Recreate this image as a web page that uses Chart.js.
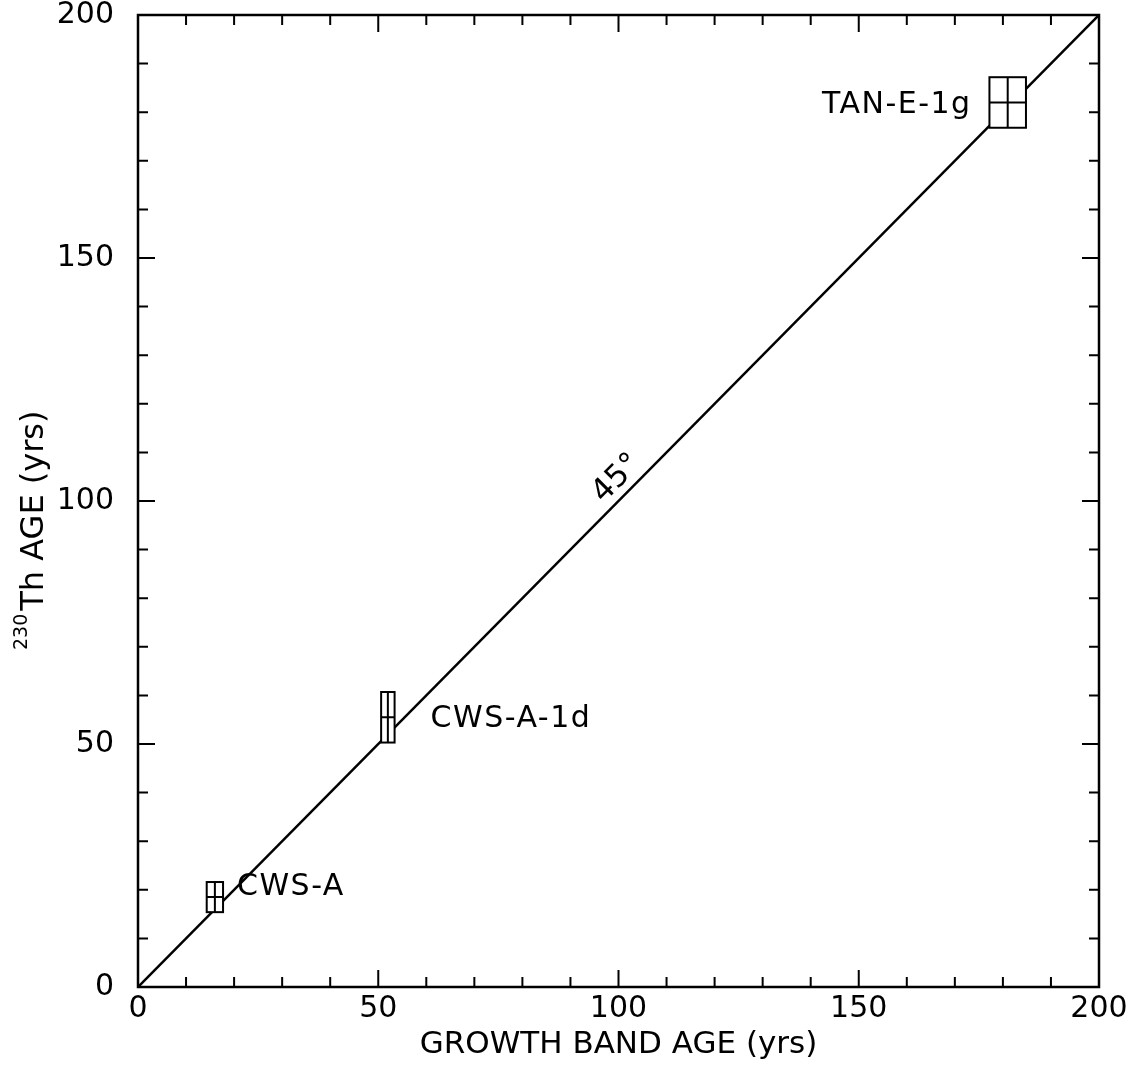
<!DOCTYPE html>
<html>
<head>
<meta charset="utf-8">
<script src="https://cdn.jsdelivr.net/npm/chart.js@4"></script>
<style>
  html, body { margin: 0; padding: 0; background: #fff; }
  #wrap { width: 1134px; height: 1072px; }
</style>
</head>
<body>
<div id="wrap"><canvas id="ageChart"></canvas></div>
<script>
// sample data
const sampleNames = ['CWS-A', 'CWS-A-1d', 'TAN-E-1g'];
const bandAge = [16, 52, 181];
const bandAgeErr = [1.7, 1.4, 3.8];
const thAge = [18.5, 55.5, 182];
const thAgeErr = [3.1, 5.2, 5.2];

// 45 degree reference line
const refLineX = [0, 200];
const refLineY = [0, 200];

// where the sample names sit (data units)
const labelX = [20.6, 60.9, 173.5];
const labelY = [20.5, 55, 181.5];
const labelAlign = ['left', 'left', 'right'];

const xTitle = 'GROWTH BAND AGE (yrs)';
const yTitleSup = '230';
const yTitle = 'Th AGE (yrs)';

const FONT = '"DejaVu Sans", sans-serif';

// frame, inward ticks on all four sides, error boxes and text
const paperPlugin = {
    id: 'paper',
    afterDraw(chart) {
        const ctx = chart.ctx;
        const area = chart.chartArea;
        const xs = chart.scales.x;
        const ys = chart.scales.y;
        ctx.save();
        ctx.strokeStyle = '#000';
        ctx.fillStyle = '#000';

        // ticks
        ctx.lineWidth = 2;
        xs.ticks.forEach(t => {
            const px = xs.getPixelForValue(t.value);
            const len = t.value % 50 === 0 ? 17 : 10;
            ctx.beginPath();
            ctx.moveTo(px, area.bottom); ctx.lineTo(px, area.bottom - len);
            ctx.moveTo(px, area.top); ctx.lineTo(px, area.top + len);
            ctx.stroke();
        });
        ys.ticks.forEach(t => {
            const py = ys.getPixelForValue(t.value);
            const len = t.value % 50 === 0 ? 17 : 10;
            ctx.beginPath();
            ctx.moveTo(area.left, py); ctx.lineTo(area.left + len, py);
            ctx.moveTo(area.right, py); ctx.lineTo(area.right - len, py);
            ctx.stroke();
        });

        // frame
        ctx.lineWidth = 2.5;
        ctx.strokeRect(area.left, area.top, area.right - area.left, area.bottom - area.top);

        // error boxes with cross
        ctx.lineWidth = 2;
        bandAge.forEach((bx, i) => {
            const x0 = xs.getPixelForValue(bx - bandAgeErr[i]);
            const x1 = xs.getPixelForValue(bx + bandAgeErr[i]);
            const y0 = ys.getPixelForValue(thAge[i] + thAgeErr[i]);
            const y1 = ys.getPixelForValue(thAge[i] - thAgeErr[i]);
            const cx = xs.getPixelForValue(bx);
            const cy = ys.getPixelForValue(thAge[i]);
            ctx.fillStyle = '#fff';
            ctx.fillRect(x0, y0, x1 - x0, y1 - y0);
            ctx.strokeRect(x0, y0, x1 - x0, y1 - y0);
            ctx.beginPath();
            ctx.moveTo(cx, y0); ctx.lineTo(cx, y1);
            ctx.moveTo(x0, cy); ctx.lineTo(x1, cy);
            ctx.stroke();
        });

        // sample names
        ctx.fillStyle = '#000';
        ctx.font = '30px ' + FONT;
        ctx.letterSpacing = '1.5px';
        ctx.textBaseline = 'middle';
        sampleNames.forEach((name, i) => {
            ctx.textAlign = labelAlign[i];
            ctx.fillText(name, xs.getPixelForValue(labelX[i]), ys.getPixelForValue(labelY[i]));
        });
        ctx.letterSpacing = '0px';

        // 45° label along the line
        ctx.save();
        ctx.translate(xs.getPixelForValue(99.7), ys.getPixelForValue(104.6));
        ctx.rotate(-Math.PI / 4);
        ctx.textAlign = 'center';
        ctx.font = '31px ' + FONT;
        ctx.fillText('45°', 0, 0);
        ctx.restore();

        // x title
        ctx.textAlign = 'center';
        ctx.font = '31px ' + FONT;
        ctx.fillText(xTitle, (area.left + area.right) / 2, 1045);

        // y title with superscript
        ctx.save();
        ctx.translate(43, 650);
        ctx.rotate(-Math.PI / 2);
        ctx.textAlign = 'left';
        ctx.textBaseline = 'alphabetic';
        ctx.font = '19px ' + FONT;
        ctx.fillText(yTitleSup, 0, -16);
        const supW = ctx.measureText(yTitleSup).width;
        ctx.font = '32px ' + FONT;
        ctx.fillText(yTitle, supW + 3, 0);
        ctx.restore();

        ctx.restore();
    }
};

const majorOnly = v => (v % 50 === 0 ? String(v) : '');

new Chart(document.getElementById('ageChart'), {
    type: 'scatter',
    data: {
        datasets: [{
            data: refLineX.map((x, i) => ({ x: x, y: refLineY[i] })),
            showLine: true,
            borderColor: '#000',
            borderWidth: 2.5,
            pointRadius: 0
        }]
    },
    options: {
        responsive: true,
        maintainAspectRatio: false,
        animation: false,
        layout: { padding: { top: 15, right: 35, left: 0, bottom: 0 } },
        plugins: {
            legend: { display: false },
            tooltip: { enabled: false }
        },
        scales: {
            x: {
                type: 'linear',
                min: 0,
                max: 200,
                grid: { display: false },
                border: { display: false },
                ticks: {
                    stepSize: 10,
                    autoSkip: false,
                    maxRotation: 0,
                    padding: -4,
                    color: '#000',
                    font: { family: FONT, size: 30 },
                    callback: majorOnly
                },
                afterFit: scale => { scale.height = 85; scale.paddingRight = 0; }
            },
            y: {
                type: 'linear',
                min: 0,
                max: 200,
                grid: { display: false },
                border: { display: false },
                ticks: {
                    stepSize: 10,
                    autoSkip: false,
                    padding: 16,
                    color: '#000',
                    font: { family: FONT, size: 30 },
                    callback: majorOnly
                },
                afterFit: scale => { scale.width = 138; scale.paddingTop = 0; scale.paddingBottom = 0; }
            }
        }
    },
    plugins: [paperPlugin]
});
</script>
</body>
</html>
